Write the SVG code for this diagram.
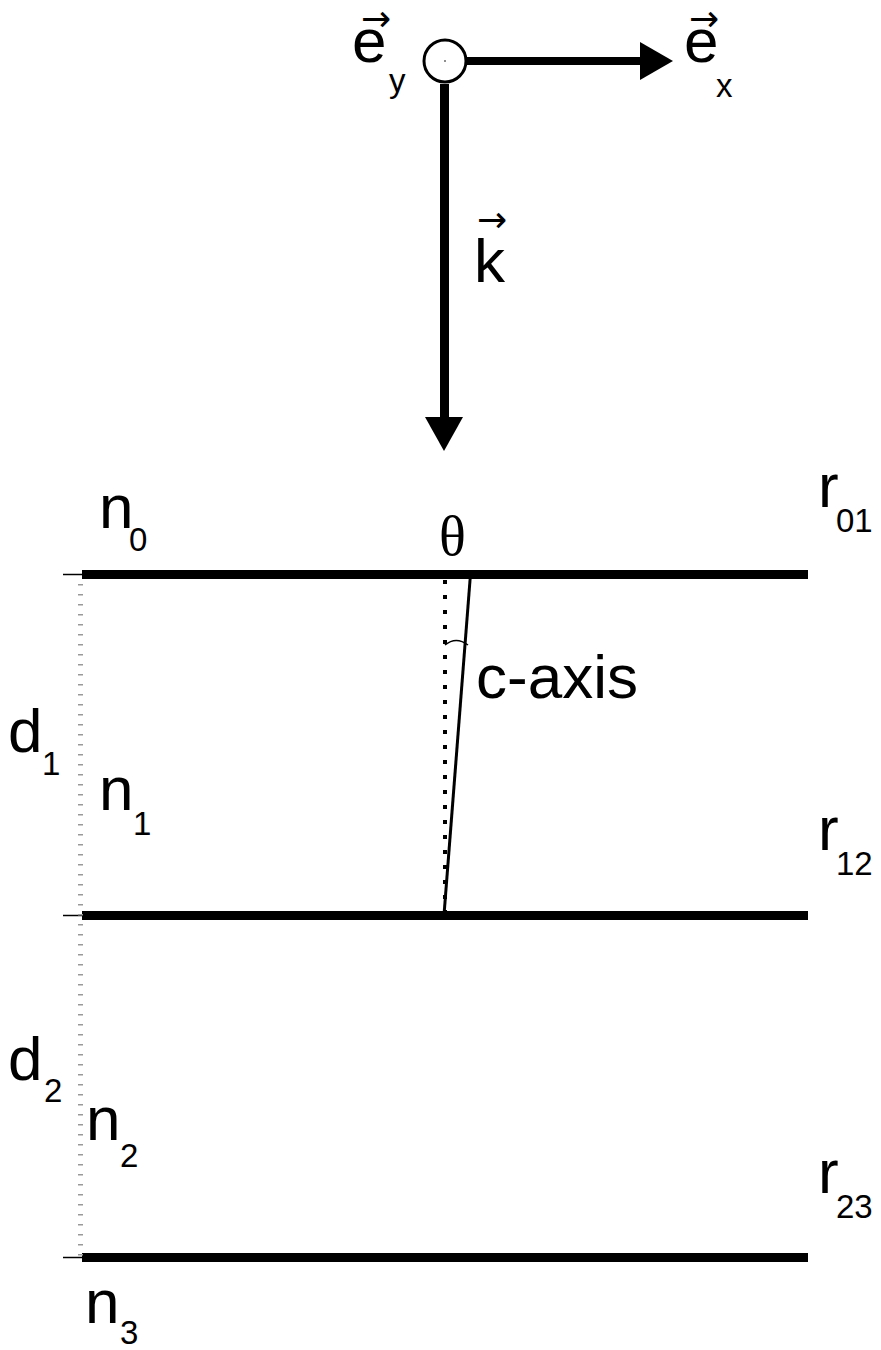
<svg xmlns="http://www.w3.org/2000/svg" width="881" height="1350" viewBox="0 0 881 1350">
<style>
.t{font-family:"Liberation Sans",Arial,sans-serif;font-size:62px;fill:#000}
.s{font-family:"Liberation Sans",Arial,sans-serif;font-size:33px;fill:#000}
.v{font-family:"DejaVu Sans",sans-serif;font-size:36px;fill:#000}
.th{font-family:"Liberation Serif","Times New Roman",serif;font-size:56px;fill:#000}
.layer{stroke:#000;stroke-width:9;fill:none}
.tick{stroke:#000;stroke-width:1.5;fill:none}
</style>
<rect width="881" height="1350" fill="#fff"/>
<g id="connectors">
  <line x1="467" y1="61" x2="642" y2="61" stroke="#000" stroke-width="8"/>
  <polygon points="640,42 673,61 640,80" fill="#000"/>
  <line x1="444.5" y1="84" x2="444.5" y2="419" stroke="#000" stroke-width="9"/>
  <polygon points="425,417 463,417 444,451" fill="#000"/>
</g>
<g id="ey-axis">
  <circle cx="445" cy="61" r="21" fill="#fff" stroke="#000" stroke-width="3"/>
  <circle cx="445" cy="61" r="0.8" fill="#000"/>
  <text class="v" x="361" y="31">→</text>
  <text class="t" x="352" y="62">e</text>
  <text class="s" x="389" y="92">y</text>
</g>
<g id="ex-label">
  <text class="v" x="689" y="31">→</text>
  <text class="t" x="684" y="62">e</text>
  <text class="s" x="716" y="97">x</text>
</g>
<g id="k-label">
  <text class="v" x="477" y="232">→</text>
  <text class="t" x="474" y="282">k</text>
</g>
<g id="layers">
  <line class="layer" x1="82" y1="574.5" x2="808" y2="574.5"/>
  <line class="layer" x1="82" y1="915.5" x2="808" y2="915.5"/>
  <line class="layer" x1="82" y1="1257.5" x2="808" y2="1257.5"/>
  <line class="tick" x1="63" y1="574.5" x2="82" y2="574.5"/>
  <line class="tick" x1="63" y1="915.5" x2="82" y2="915.5"/>
  <line class="tick" x1="63" y1="1257.5" x2="82" y2="1257.5"/>
  <line x1="80.5" y1="584" x2="80.5" y2="1256" stroke="#999" stroke-width="5" stroke-dasharray="1.5 8.5"/>
</g>
<g id="c-axis">
  <line x1="445" y1="580" x2="445" y2="912" stroke="#000" stroke-width="4" stroke-dasharray="4 11"/>
  <line x1="470.5" y1="574" x2="444" y2="915" stroke="#000" stroke-width="3"/>
  <path d="M445 645 Q456 636 468 645" fill="none" stroke="#000" stroke-width="1.5"/>
  <text class="t" x="476" y="698">c-axis</text>
  <text class="th" x="439" y="555">θ</text>
</g>
<g id="n-labels">
  <text class="t" x="99" y="528">n</text><text class="s" x="129" y="551">0</text>
  <text class="t" x="99" y="810">n</text><text class="s" x="133" y="835">1</text>
  <text class="t" x="86" y="1140">n</text><text class="s" x="120" y="1167">2</text>
  <text class="t" x="85" y="1323">n</text><text class="s" x="120" y="1344">3</text>
</g>
<g id="d-labels">
  <text class="t" x="8" y="752">d</text><text class="s" x="42" y="775">1</text>
  <text class="t" x="8" y="1080">d</text><text class="s" x="44" y="1102">2</text>
</g>
<g id="r-labels">
  <text class="t" x="818" y="507">r</text><text class="s" x="836" y="532">01</text>
  <text class="t" x="818" y="850">r</text><text class="s" x="836" y="875">12</text>
  <text class="t" x="818" y="1193">r</text><text class="s" x="836" y="1218">23</text>
</g>
</svg>
